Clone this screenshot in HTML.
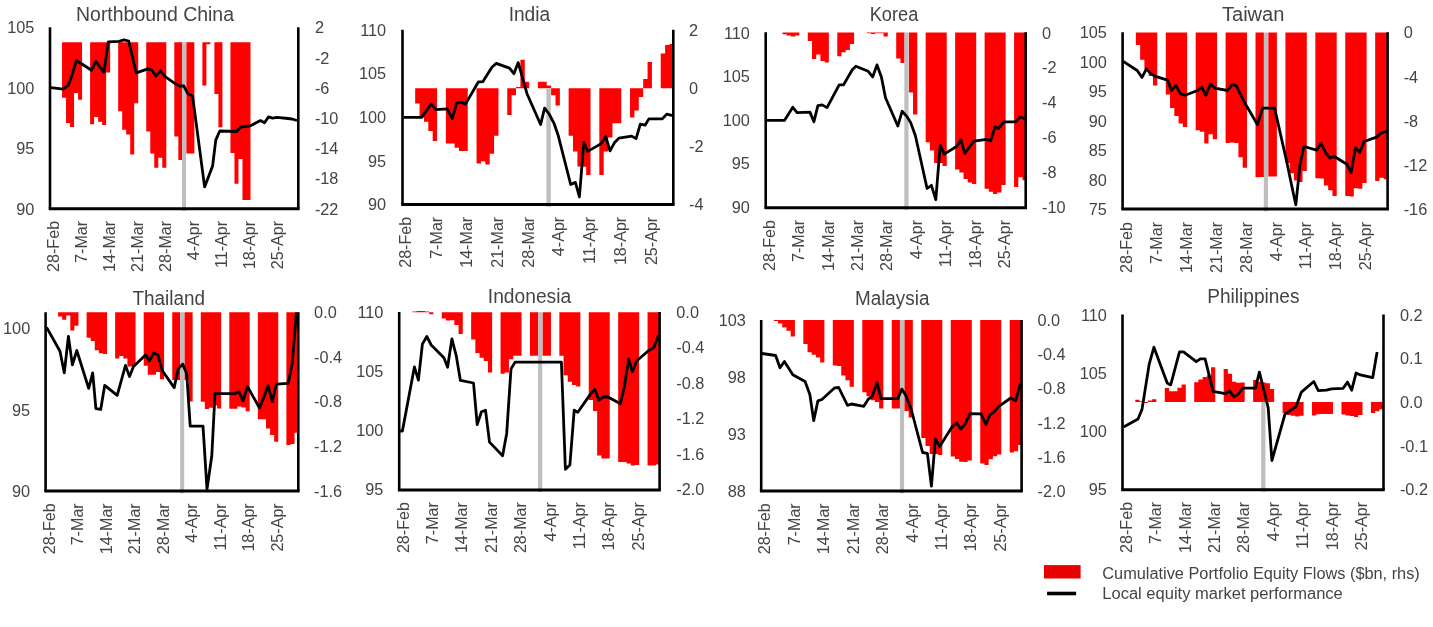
<!DOCTYPE html>
<html lang="en"><head><meta charset="utf-8"><title>Equity flows</title>
<style>html,body{margin:0;padding:0;background:#fff}body{width:1433px;height:627px;overflow:hidden}svg{display:block}</style>
</head><body>
<svg width="1433" height="627" viewBox="0 0 1433 627" font-family="'Liberation Sans', sans-serif">
<rect width="1433" height="627" fill="#ffffff"/>
<g><path d="M62.03 42.3V97.7H66.04V123H70.05V127H74.06V92.9H78.07V99.8H82.08V42.3ZM90.1 42.3V124.3H94.11V117H98.12V121.7H102.13V124.9H106.14V72.5H110.15V42.3ZM118.17 42.3V111.3H122.18V129.7H126.19V134.5H130.2V154.6H134.21V103.3H138.22V42.3ZM146.24 42.3V131.5H150.25V153.4H154.26V167.7H158.27V157.8H162.28V167.7H166.29V42.3ZM174.31 42.3V136.6H178.32V160H182.33V42.3ZM186.34 42.3V153.4H190.35V153.4H194.36V42.3ZM202.38 42.3V85.4H206.39V44.2H210.4V42.3ZM214.41 42.3V94H218.42V127.3H222.43V42.3ZM230.45 42.3V153H234.46V183.7H238.47V159H242.48V200H246.49V200H250.5V42.3Z" fill="#ff0000"/><rect x="182.03" y="42.3" width="4.01" height="168.6" fill="#bfbfbf"/><path d="M50 27.3V208.5M298.3 27.3V208.5" fill="none" stroke="#000" stroke-width="2.6"/><path d="M48.7 208.7H299.6" fill="none" stroke="#000" stroke-width="3"/><polyline points="51,87.6 63.2,89.2 68,85.7 71.2,77.7 76.4,60.5 91.5,70.2 95.9,61.4 103.9,72.1 108.4,41.8 119.1,41.3 123.9,39.9 128.7,41 136.2,72.9 147.9,68.9 151.9,70.2 155.9,76.1 160.3,70.9 165.5,76.9 175.8,84.1 179.8,86 183.8,86 187.8,93.7 192.6,96.1 204.6,186.9 212.6,166.1 215.8,139.8 219.8,131 236.6,131.5 240.6,127 250,125.9 260.5,120.6 264.5,122.7 268.5,116.9 272.5,118.2 277,117.4 288,118.5 292,119 297,120.5" fill="none" stroke="#000" stroke-width="2.8" stroke-linejoin="round" stroke-linecap="butt"/><text x="155" y="20.6" font-size="19.4" fill="#444444" text-anchor="middle" textLength="158" lengthAdjust="spacingAndGlyphs">Northbound China</text><text x="34.4" y="33.3" font-size="16.3" fill="#444444" text-anchor="end">105</text><text x="34.4" y="93.73" font-size="16.3" fill="#444444" text-anchor="end">100</text><text x="34.4" y="154.17" font-size="16.3" fill="#444444" text-anchor="end">95</text><text x="34.4" y="214.6" font-size="16.3" fill="#444444" text-anchor="end">90</text><text x="314.9" y="33.3" font-size="16.3" fill="#444444">2</text><text x="314.9" y="63.52" font-size="16.3" fill="#444444">-2</text><text x="314.9" y="93.73" font-size="16.3" fill="#444444">-6</text><text x="314.9" y="123.95" font-size="16.3" fill="#444444">-10</text><text x="314.9" y="154.17" font-size="16.3" fill="#444444">-14</text><text x="314.9" y="184.38" font-size="16.3" fill="#444444">-18</text><text x="314.9" y="214.6" font-size="16.3" fill="#444444">-22</text><text transform="translate(58.8 220.9) rotate(-90)" font-size="16.1" fill="#444444" text-anchor="end">28-Feb</text><text transform="translate(86.88 220.9) rotate(-90)" font-size="16.1" fill="#444444" text-anchor="end">7-Mar</text><text transform="translate(114.94 220.9) rotate(-90)" font-size="16.1" fill="#444444" text-anchor="end">14-Mar</text><text transform="translate(143.01 220.9) rotate(-90)" font-size="16.1" fill="#444444" text-anchor="end">21-Mar</text><text transform="translate(171.09 220.9) rotate(-90)" font-size="16.1" fill="#444444" text-anchor="end">28-Mar</text><text transform="translate(199.16 220.9) rotate(-90)" font-size="16.1" fill="#444444" text-anchor="end">4-Apr</text><text transform="translate(227.22 220.9) rotate(-90)" font-size="16.1" fill="#444444" text-anchor="end">11-Apr</text><text transform="translate(255.29 220.9) rotate(-90)" font-size="16.1" fill="#444444" text-anchor="end">18-Apr</text><text transform="translate(283.37 220.9) rotate(-90)" font-size="16.1" fill="#444444" text-anchor="end">25-Apr</text></g>
<g><path d="M415.15 88.3V103.6H419.54V117.5H423.93V121.7H428.31V131H432.69V141H437.08V88.3ZM445.85 88.3V143.4H450.24V143.4H454.62V147.8H459V151H463.39V151H467.77V88.3ZM476.55 88.3V163.4H480.93V161.3H485.31V164.5H489.7V153.8H494.08V135.8H498.47V88.3ZM507.24 88.3V115H511.62V95.3H516.01V87H520.39V59.8H524.78V81.7H529.16V88.3ZM537.93 88.3V81.7H542.32V81.7H546.7V85.4H551.09V95.3H555.48V105.4H559.86V88.3ZM568.63 88.3V135.8H573.01V151.4H577.4V166.5H581.78V166.8H586.17V175H590.55V88.3ZM599.33 88.3V175H603.71V151.5H608.1V137.5H612.48V123.3H616.87V123.3H621.25V88.3ZM630.02 88.3V117.5H634.4V110.4H638.79V97H643.17V78.9H647.56V62H651.94V88.3ZM660.71 88.3V53.4H665.1V44.9H669.49V44.1H673.3V88.3Z" fill="#ff0000"/><rect x="546.4" y="88.3" width="4.39" height="118.5" fill="#bfbfbf"/><path d="M402.5 29.8V204.4M673.3 29.8V204.4" fill="none" stroke="#000" stroke-width="2.6"/><path d="M401.2 204.6H674.6" fill="none" stroke="#000" stroke-width="3"/><polyline points="403.5,117.4 421.6,117.4 431.2,104.1 435.9,109.7 447.1,108.9 452.2,118.5 456.7,103.3 460.7,102.2 465.5,104.1 478.3,82 482.8,81.7 491.9,67.3 496.3,63.4 509.5,68.1 513.9,73.7 518.2,62.6 527,93.7 540.6,124.5 544.6,108.1 549.4,114.5 554,123.3 558.3,135.8 570.7,184.5 575.4,182.4 579.4,197 583.8,142.5 587.8,151.4 601.2,143.6 605.8,136.6 610,150.8 614.4,142.8 618.9,138.1 631.7,136.1 636.1,138.6 640.3,124.1 645.1,125.2 648.9,118.9 662.3,118.9 666.7,114.1 672.8,115.7" fill="none" stroke="#000" stroke-width="2.8" stroke-linejoin="round" stroke-linecap="butt"/><text x="529.4" y="21.1" font-size="19.4" fill="#444444" text-anchor="middle" textLength="41.5" lengthAdjust="spacingAndGlyphs">India</text><text x="386.1" y="35.7" font-size="16.3" fill="#444444" text-anchor="end">110</text><text x="386.1" y="79.35" font-size="16.3" fill="#444444" text-anchor="end">105</text><text x="386.1" y="123" font-size="16.3" fill="#444444" text-anchor="end">100</text><text x="386.1" y="166.65" font-size="16.3" fill="#444444" text-anchor="end">95</text><text x="386.1" y="210.3" font-size="16.3" fill="#444444" text-anchor="end">90</text><text x="689" y="35.7" font-size="16.3" fill="#444444">2</text><text x="689" y="93.9" font-size="16.3" fill="#444444">0</text><text x="689" y="152.1" font-size="16.3" fill="#444444">-2</text><text x="689" y="210.3" font-size="16.3" fill="#444444">-4</text><text transform="translate(410.99 216.8) rotate(-90)" font-size="16.1" fill="#444444" text-anchor="end">28-Feb</text><text transform="translate(441.69 216.8) rotate(-90)" font-size="16.1" fill="#444444" text-anchor="end">7-Mar</text><text transform="translate(472.38 216.8) rotate(-90)" font-size="16.1" fill="#444444" text-anchor="end">14-Mar</text><text transform="translate(503.08 216.8) rotate(-90)" font-size="16.1" fill="#444444" text-anchor="end">21-Mar</text><text transform="translate(533.77 216.8) rotate(-90)" font-size="16.1" fill="#444444" text-anchor="end">28-Mar</text><text transform="translate(564.47 216.8) rotate(-90)" font-size="16.1" fill="#444444" text-anchor="end">4-Apr</text><text transform="translate(595.16 216.8) rotate(-90)" font-size="16.1" fill="#444444" text-anchor="end">11-Apr</text><text transform="translate(625.86 216.8) rotate(-90)" font-size="16.1" fill="#444444" text-anchor="end">18-Apr</text><text transform="translate(656.55 216.8) rotate(-90)" font-size="16.1" fill="#444444" text-anchor="end">25-Apr</text></g>
<g><path d="M782.54 32.5V34.3H786.75V35.5H790.96V36.5H795.17V35.5H799.38V32.5ZM807.8 32.5V41H812.01V59H816.22V54.6H820.43V61H824.64V62.6H828.85V32.5ZM837.27 32.5V56.2H841.48V52.2H845.69V50.1H849.9V43.9H854.11V32.5ZM866.74 32.5V33.3H870.95V34H875.16V33.3H879.37V33.3H883.58V36.5H887.79V32.5ZM896.21 32.5V58.6H900.42V62.9H904.63V32.5ZM908.84 32.5V92.4H913.05V114.5H917.26V32.5ZM925.68 32.5V142.2H929.89V150.5H934.1V162.9H938.31V163H942.52V166.1H946.73V32.5ZM955.15 32.5V169.6H959.36V172.4H963.57V179H967.78V182.4H971.99V184H976.2V32.5ZM984.62 32.5V188.8H988.83V191.7H993.04V193.9H997.25V192.6H1001.46V185H1005.67V32.5ZM1014.09 32.5V186.9H1018.3V177.3H1022.51V180.2H1025.7V32.5Z" fill="#ff0000"/><rect x="904.33" y="32.5" width="4.21" height="177.5" fill="#bfbfbf"/><path d="M765.7 32.3V207.6M1025.7 32.3V207.6" fill="none" stroke="#000" stroke-width="2.6"/><path d="M764.4 207.8H1027" fill="none" stroke="#000" stroke-width="3"/><polyline points="766.5,120.4 784.4,120.4 792.8,107.3 797.1,112.6 809.9,112.1 813.9,121.7 817.9,105.7 822.2,104.9 827,107.6 839.2,84.9 843.5,84.9 852.3,69.7 855.9,66.2 868.2,71.3 872.7,76.9 877,64.9 881.4,76.9 885.5,97.7 897.8,126 902.1,111.3 906.6,116.1 910.6,122.4 915.4,135.8 927.1,188.5 931.4,185.3 935.8,199.7 940.2,145.4 944.2,154.1 956.9,146.2 960.9,139.9 964.8,153.4 969.5,147 974,141.2 986.5,139.4 990.7,140.9 995.1,126.6 998.4,128.5 1004.1,121.8 1015.6,121.8 1020.4,117 1025.2,118.9" fill="none" stroke="#000" stroke-width="2.8" stroke-linejoin="round" stroke-linecap="butt"/><text x="894" y="20.6" font-size="19.4" fill="#444444" text-anchor="middle" textLength="48.5" lengthAdjust="spacingAndGlyphs">Korea</text><text x="749.9" y="38.5" font-size="16.3" fill="#444444" text-anchor="end">110</text><text x="749.9" y="82.15" font-size="16.3" fill="#444444" text-anchor="end">105</text><text x="749.9" y="125.8" font-size="16.3" fill="#444444" text-anchor="end">100</text><text x="749.9" y="169.45" font-size="16.3" fill="#444444" text-anchor="end">95</text><text x="749.9" y="213.1" font-size="16.3" fill="#444444" text-anchor="end">90</text><text x="1042.1" y="38.5" font-size="16.3" fill="#444444">0</text><text x="1042.1" y="73.42" font-size="16.3" fill="#444444">-2</text><text x="1042.1" y="108.34" font-size="16.3" fill="#444444">-4</text><text x="1042.1" y="143.26" font-size="16.3" fill="#444444">-6</text><text x="1042.1" y="178.18" font-size="16.3" fill="#444444">-8</text><text x="1042.1" y="213.1" font-size="16.3" fill="#444444">-10</text><text transform="translate(774.61 220) rotate(-90)" font-size="16.1" fill="#444444" text-anchor="end">28-Feb</text><text transform="translate(804.08 220) rotate(-90)" font-size="16.1" fill="#444444" text-anchor="end">7-Mar</text><text transform="translate(833.54 220) rotate(-90)" font-size="16.1" fill="#444444" text-anchor="end">14-Mar</text><text transform="translate(863.01 220) rotate(-90)" font-size="16.1" fill="#444444" text-anchor="end">21-Mar</text><text transform="translate(892.49 220) rotate(-90)" font-size="16.1" fill="#444444" text-anchor="end">28-Mar</text><text transform="translate(921.96 220) rotate(-90)" font-size="16.1" fill="#444444" text-anchor="end">4-Apr</text><text transform="translate(951.42 220) rotate(-90)" font-size="16.1" fill="#444444" text-anchor="end">11-Apr</text><text transform="translate(980.89 220) rotate(-90)" font-size="16.1" fill="#444444" text-anchor="end">18-Apr</text><text transform="translate(1010.37 220) rotate(-90)" font-size="16.1" fill="#444444" text-anchor="end">25-Apr</text></g>
<g><path d="M1135.87 32.5V45H1140.14V59.8H1144.41V69H1148.69V76H1152.96V85.4H1157.23V32.5ZM1165.78 32.5V94.5H1170.05V108.1H1174.33V116.1H1178.6V123.5H1182.87V127H1187.14V32.5ZM1195.69 32.5V130.2H1199.96V131.8H1204.24V143.4H1208.51V134.2H1212.78V139.3H1217.06V32.5ZM1225.6 32.5V143H1229.88V142.5H1234.15V143H1238.42V157.3H1242.69V167.7H1246.97V32.5ZM1255.51 32.5V177.3H1259.79V177H1264.06V32.5ZM1268.33 32.5V176.5H1272.61V176.5H1276.88V32.5ZM1285.42 32.5V162.9H1289.7V173.3H1293.97V180.5H1298.24V182.1H1302.52V170.9H1306.79V32.5ZM1315.34 32.5V178.2H1319.61V178.6H1323.88V185.5H1328.15V190.2H1332.43V196.1H1336.7V32.5ZM1345.25 32.5V196H1349.52V196.4H1353.79V188.2H1358.07V188.8H1362.34V183H1366.61V32.5ZM1375.16 32.5V181.1H1379.43V177.7H1383.7V179.2H1387.6V32.5Z" fill="#ff0000"/><rect x="1263.76" y="32.5" width="4.27" height="178.8" fill="#bfbfbf"/><path d="M1122.6 32.2V208.9M1387.6 32.2V208.9" fill="none" stroke="#000" stroke-width="2.6"/><path d="M1121.3 209.1H1388.9" fill="none" stroke="#000" stroke-width="3"/><polyline points="1123.2,61.4 1137.2,70.5 1142,77.4 1146.4,68.9 1150,72.9 1154.7,76.1 1167.5,80.1 1171.5,90.5 1175.8,85.4 1180.3,93.7 1185.1,95.3 1197.6,90.5 1201.9,87.3 1205.9,95.3 1210.4,84.1 1214.7,88.1 1227.5,90.5 1232.2,84.6 1236.2,85.7 1241,95.3 1245,103.3 1257.4,124.5 1262.6,108.1 1274.6,108.1 1287,163 1291.3,183.7 1295.8,204.8 1300.2,163 1304.1,146.5 1316.6,150.1 1321.2,143.3 1325.8,153 1330,158 1334.3,156.5 1346.9,164.3 1351.1,172.5 1355.5,147.6 1359.7,152.4 1364.1,141.5 1376.6,137.1 1381.3,132.9 1387,131.4" fill="none" stroke="#000" stroke-width="2.8" stroke-linejoin="round" stroke-linecap="butt"/><text x="1253.2" y="20.6" font-size="19.4" fill="#444444" text-anchor="middle" textLength="62.5" lengthAdjust="spacingAndGlyphs">Taiwan</text><text x="1106.9" y="38.4" font-size="16.3" fill="#444444" text-anchor="end">105</text><text x="1106.9" y="67.83" font-size="16.3" fill="#444444" text-anchor="end">100</text><text x="1106.9" y="97.27" font-size="16.3" fill="#444444" text-anchor="end">95</text><text x="1106.9" y="126.7" font-size="16.3" fill="#444444" text-anchor="end">90</text><text x="1106.9" y="156.13" font-size="16.3" fill="#444444" text-anchor="end">85</text><text x="1106.9" y="185.57" font-size="16.3" fill="#444444" text-anchor="end">80</text><text x="1106.9" y="215" font-size="16.3" fill="#444444" text-anchor="end">75</text><text x="1403.7" y="38.4" font-size="16.3" fill="#444444">0</text><text x="1403.7" y="82.55" font-size="16.3" fill="#444444">-4</text><text x="1403.7" y="126.7" font-size="16.3" fill="#444444">-8</text><text x="1403.7" y="170.85" font-size="16.3" fill="#444444">-12</text><text x="1403.7" y="215" font-size="16.3" fill="#444444">-16</text><text transform="translate(1131.99 222) rotate(-90)" font-size="16.1" fill="#444444" text-anchor="end">28-Feb</text><text transform="translate(1161.9 222) rotate(-90)" font-size="16.1" fill="#444444" text-anchor="end">7-Mar</text><text transform="translate(1191.81 222) rotate(-90)" font-size="16.1" fill="#444444" text-anchor="end">14-Mar</text><text transform="translate(1221.72 222) rotate(-90)" font-size="16.1" fill="#444444" text-anchor="end">21-Mar</text><text transform="translate(1251.63 222) rotate(-90)" font-size="16.1" fill="#444444" text-anchor="end">28-Mar</text><text transform="translate(1281.54 222) rotate(-90)" font-size="16.1" fill="#444444" text-anchor="end">4-Apr</text><text transform="translate(1311.45 222) rotate(-90)" font-size="16.1" fill="#444444" text-anchor="end">11-Apr</text><text transform="translate(1341.36 222) rotate(-90)" font-size="16.1" fill="#444444" text-anchor="end">18-Apr</text><text transform="translate(1371.27 222) rotate(-90)" font-size="16.1" fill="#444444" text-anchor="end">25-Apr</text></g>
<g><path d="M58.08 312.2V316.5H62.16V319.7H66.23V315.4H70.31V330.6H74.39V325.8H78.47V312.2ZM86.62 312.2V337.8H90.7V341H94.77V350.2H98.85V353.3H102.93V354H107V312.2ZM115.16 312.2V358.5H119.24V356.1H123.31V358.5H127.39V366.5H131.47V366.5H135.54V312.2ZM143.7 312.2V365.7H147.78V374.8H151.85V374.8H155.93V372.1H160.01V379.3H164.08V312.2ZM172.24 312.2V380H176.31V380H180.39V312.2ZM184.47 312.2V380H188.54V401.5H192.62V312.2ZM200.78 312.2V401.7H204.85V409.1H208.93V407.8H213.01V405.4H217.08V408.6H221.16V312.2ZM229.31 312.2V408.8H233.39V408.8H237.47V406.5H241.55V407.4H245.62V411.3H249.7V312.2ZM257.85 312.2V419.3H261.93V419.3H266.01V428.4H270.08V435H274.16V441.7H278.24V312.2ZM286.39 312.2V444.9H290.47V444.1H294.55V432.7H298.3V312.2Z" fill="#ff0000"/><rect x="180.09" y="312.2" width="4.08" height="181.1" fill="#bfbfbf"/><path d="M45.6 312.2V490.9M298.3 312.2V490.9" fill="none" stroke="#000" stroke-width="2.6"/><path d="M44.3 491.1H299.6" fill="none" stroke="#000" stroke-width="3"/><polyline points="46.6,327.4 60,351.3 64.3,372.9 68.4,336.5 72.4,364.9 76.8,350.5 88.7,388.4 92.7,372.9 95.9,408.6 100.7,409.4 104.7,385.4 117.2,395.3 121,381.7 125.5,365.4 129.5,376.6 133.5,366.5 145.5,354.9 149.5,360.9 153.8,352.9 157.9,354.9 162.2,370.5 174.2,387.6 178.2,368.9 182.7,364.1 186.7,373.7 190.2,426.2 203,426.2 207,489.3 211.8,455.7 215,393.7 235,393.7 239,391.8 243,400.9 247.5,386.6 259.5,408 264,397 268,385.5 272.3,401.5 276.3,384.2 288.2,383.3 292.2,364 296.4,312.5" fill="none" stroke="#000" stroke-width="2.8" stroke-linejoin="round" stroke-linecap="butt"/><text x="168.7" y="304.6" font-size="19.4" fill="#444444" text-anchor="middle" textLength="72.5" lengthAdjust="spacingAndGlyphs">Thailand</text><text x="30.2" y="334.3" font-size="16.3" fill="#444444" text-anchor="end">100</text><text x="30.2" y="415.5" font-size="16.3" fill="#444444" text-anchor="end">95</text><text x="30.2" y="496.7" font-size="16.3" fill="#444444" text-anchor="end">90</text><text x="314.1" y="318" font-size="16.3" fill="#444444">0.0</text><text x="314.1" y="362.7" font-size="16.3" fill="#444444">-0.4</text><text x="314.1" y="407.4" font-size="16.3" fill="#444444">-0.8</text><text x="314.1" y="452.1" font-size="16.3" fill="#444444">-1.2</text><text x="314.1" y="496.8" font-size="16.3" fill="#444444">-1.6</text><text transform="translate(54.69 503.3) rotate(-90)" font-size="16.1" fill="#444444" text-anchor="end">28-Feb</text><text transform="translate(83.23 503.3) rotate(-90)" font-size="16.1" fill="#444444" text-anchor="end">7-Mar</text><text transform="translate(111.77 503.3) rotate(-90)" font-size="16.1" fill="#444444" text-anchor="end">14-Mar</text><text transform="translate(140.31 503.3) rotate(-90)" font-size="16.1" fill="#444444" text-anchor="end">21-Mar</text><text transform="translate(168.84 503.3) rotate(-90)" font-size="16.1" fill="#444444" text-anchor="end">28-Mar</text><text transform="translate(197.38 503.3) rotate(-90)" font-size="16.1" fill="#444444" text-anchor="end">4-Apr</text><text transform="translate(225.92 503.3) rotate(-90)" font-size="16.1" fill="#444444" text-anchor="end">11-Apr</text><text transform="translate(254.46 503.3) rotate(-90)" font-size="16.1" fill="#444444" text-anchor="end">18-Apr</text><text transform="translate(283 503.3) rotate(-90)" font-size="16.1" fill="#444444" text-anchor="end">25-Apr</text></g>
<g><path d="M412.35 312.2V311.4H416.55V311H420.75V311H424.95V311.4H429.15V314.3H433.35V312.2ZM441.75 312.2V318.6H445.95V320.5H450.15V320.2H454.35V325H458.55V334.1H462.75V312.2ZM471.15 312.2V339.4H475.35V352.9H479.55V357.7H483.75V360.9H487.95V372.4H492.15V312.2ZM500.55 312.2V373.7H504.75V372.4H508.95V359.3H513.15V355.8H517.35V355.8H521.55V312.2ZM529.95 312.2V355.8H534.15V355.8H538.35V312.2ZM542.55 312.2V355.8H546.75V355.8H550.95V312.2ZM559.35 312.2V355.8H563.55V375.3H567.75V381.7H571.95V384.9H576.15V386.5H580.35V312.2ZM588.75 312.2V400H592.95V411H597.15V455.4H601.35V458.4H605.55V458.4H609.75V312.2ZM618.15 312.2V462.1H622.35V462.1H626.55V463.4H630.75V465.5H634.95V465H639.15V312.2ZM647.55 312.2V465.5H651.75V465.5H655.95V464.6H659.6V312.2Z" fill="#ff0000"/><rect x="538.05" y="312.2" width="4.2" height="179.9" fill="#bfbfbf"/><path d="M399.2 312V489.7M659.6 312V489.7" fill="none" stroke="#000" stroke-width="2.6"/><path d="M397.9 489.9H660.9" fill="none" stroke="#000" stroke-width="3"/><polyline points="400.2,431 402.4,431 414.4,367 418.4,380.1 422.4,344.1 426.8,336.5 431.2,345 443.9,357.7 447.6,367.3 451.9,338.9 456.3,356 460.4,380.4 473.5,383 477.2,424.6 481.5,411.8 485.5,410.2 489.5,442.1 502.6,455.7 506.7,433.4 511,368.9 515,362.2 561.4,362.2 565.4,469.3 569.9,465 574.2,410.2 577.8,412.3 590.3,394.4 594.8,389.5 598.9,400 603.7,396.8 608,397 620.4,403.7 624.4,386.9 628.6,359.1 632.4,371.6 636.6,361 648.7,350.5 653.9,347.6 658.6,335.2" fill="none" stroke="#000" stroke-width="2.8" stroke-linejoin="round" stroke-linecap="butt"/><text x="529.5" y="303.1" font-size="19.4" fill="#444444" text-anchor="middle" textLength="83.3" lengthAdjust="spacingAndGlyphs">Indonesia</text><text x="383.4" y="318" font-size="16.3" fill="#444444" text-anchor="end">110</text><text x="383.4" y="377.1" font-size="16.3" fill="#444444" text-anchor="end">105</text><text x="383.4" y="436.2" font-size="16.3" fill="#444444" text-anchor="end">100</text><text x="383.4" y="495.3" font-size="16.3" fill="#444444" text-anchor="end">95</text><text x="676.3" y="318" font-size="16.3" fill="#444444">0.0</text><text x="676.3" y="353.46" font-size="16.3" fill="#444444">-0.4</text><text x="676.3" y="388.92" font-size="16.3" fill="#444444">-0.8</text><text x="676.3" y="424.38" font-size="16.3" fill="#444444">-1.2</text><text x="676.3" y="459.84" font-size="16.3" fill="#444444">-1.6</text><text x="676.3" y="495.3" font-size="16.3" fill="#444444">-2.0</text><text transform="translate(408.65 502.1) rotate(-90)" font-size="16.1" fill="#444444" text-anchor="end">28-Feb</text><text transform="translate(438.05 502.1) rotate(-90)" font-size="16.1" fill="#444444" text-anchor="end">7-Mar</text><text transform="translate(467.45 502.1) rotate(-90)" font-size="16.1" fill="#444444" text-anchor="end">14-Mar</text><text transform="translate(496.85 502.1) rotate(-90)" font-size="16.1" fill="#444444" text-anchor="end">21-Mar</text><text transform="translate(526.25 502.1) rotate(-90)" font-size="16.1" fill="#444444" text-anchor="end">28-Mar</text><text transform="translate(555.65 502.1) rotate(-90)" font-size="16.1" fill="#444444" text-anchor="end">4-Apr</text><text transform="translate(585.05 502.1) rotate(-90)" font-size="16.1" fill="#444444" text-anchor="end">11-Apr</text><text transform="translate(614.45 502.1) rotate(-90)" font-size="16.1" fill="#444444" text-anchor="end">18-Apr</text><text transform="translate(643.85 502.1) rotate(-90)" font-size="16.1" fill="#444444" text-anchor="end">25-Apr</text></g>
<g><path d="M773.84 320.1V320.9H778.05V323.6H782.26V327.6H786.47V330.8H790.68V336.4H794.9V320.1ZM803.32 320.1V344H807.53V352.3H811.74V354.7H815.96V357.6H820.17V362.4H824.38V320.1ZM832.8 320.1V365.6H837.02V365.9H841.23V375.5H845.44V380.3H849.65V386.7H853.86V320.1ZM862.29 320.1V392.3H866.5V396.3H870.71V400.3H874.92V401.9H879.14V408.4H883.35V320.1ZM891.77 320.1V408.5H895.98V408.5H900.2V320.1ZM904.41 320.1V411H908.62V417.4H912.83V320.1ZM921.26 320.1V438.1H925.47V446.1H929.68V454.1H933.89V454.1H938.1V454.9H942.32V320.1ZM950.74 320.1V456.4H954.95V459H959.16V461.8H963.38V461.9H967.59V460.5H971.8V320.1ZM980.22 320.1V463.4H984.44V465H988.65V459.2H992.86V456.3H997.07V454.4H1001.28V320.1ZM1009.71 320.1V452.5H1013.92V451.2H1018.13V444.9H1021.6V320.1Z" fill="#ff0000"/><rect x="899.9" y="320.1" width="4.21" height="173.2" fill="#bfbfbf"/><path d="M761.2 319.9V490.9M1021.6 319.9V490.9" fill="none" stroke="#000" stroke-width="2.6"/><path d="M759.9 491.1H1022.9" fill="none" stroke="#000" stroke-width="3"/><polyline points="762,353.5 775.6,355.5 780,367.8 784.4,361.5 792.8,374.7 805.1,381.4 809.9,394.7 813.7,420.6 817.9,400.8 821.9,399.5 834.7,387.8 838.7,387.5 847.5,405.4 851.5,404 863.8,406.3 868.2,399.2 872.2,396.3 877,382.7 881,398.7 897.8,398.7 901.8,389.1 905.8,395.5 911.4,410 922.6,452.5 927.4,453.3 931.4,486.1 935.4,438.9 939.6,446.4 952.2,426.7 956.8,423 960.8,429 965.2,424 970,413.6 981.1,413.9 985.9,424.4 989.8,415.2 994.5,411.4 998.4,406.6 1010.8,398 1015.6,400.8 1020.4,383.6" fill="none" stroke="#000" stroke-width="2.8" stroke-linejoin="round" stroke-linecap="butt"/><text x="892.2" y="304.6" font-size="19.4" fill="#444444" text-anchor="middle" textLength="74.5" lengthAdjust="spacingAndGlyphs">Malaysia</text><text x="745.9" y="326" font-size="16.3" fill="#444444" text-anchor="end">103</text><text x="745.9" y="382.97" font-size="16.3" fill="#444444" text-anchor="end">98</text><text x="745.9" y="439.93" font-size="16.3" fill="#444444" text-anchor="end">93</text><text x="745.9" y="496.9" font-size="16.3" fill="#444444" text-anchor="end">88</text><text x="1037.5" y="326" font-size="16.3" fill="#444444">0.0</text><text x="1037.5" y="360.18" font-size="16.3" fill="#444444">-0.4</text><text x="1037.5" y="394.36" font-size="16.3" fill="#444444">-0.8</text><text x="1037.5" y="428.54" font-size="16.3" fill="#444444">-1.2</text><text x="1037.5" y="462.72" font-size="16.3" fill="#444444">-1.6</text><text x="1037.5" y="496.9" font-size="16.3" fill="#444444">-2.0</text><text transform="translate(770.11 503.3) rotate(-90)" font-size="16.1" fill="#444444" text-anchor="end">28-Feb</text><text transform="translate(799.59 503.3) rotate(-90)" font-size="16.1" fill="#444444" text-anchor="end">7-Mar</text><text transform="translate(829.07 503.3) rotate(-90)" font-size="16.1" fill="#444444" text-anchor="end">14-Mar</text><text transform="translate(858.56 503.3) rotate(-90)" font-size="16.1" fill="#444444" text-anchor="end">21-Mar</text><text transform="translate(888.04 503.3) rotate(-90)" font-size="16.1" fill="#444444" text-anchor="end">28-Mar</text><text transform="translate(917.53 503.3) rotate(-90)" font-size="16.1" fill="#444444" text-anchor="end">4-Apr</text><text transform="translate(947.01 503.3) rotate(-90)" font-size="16.1" fill="#444444" text-anchor="end">11-Apr</text><text transform="translate(976.49 503.3) rotate(-90)" font-size="16.1" fill="#444444" text-anchor="end">18-Apr</text><text transform="translate(1005.98 503.3) rotate(-90)" font-size="16.1" fill="#444444" text-anchor="end">25-Apr</text></g>
<g><path d="M1135.32 401.9V399.8H1139.53V401.2H1143.74V403H1147.94V400.6H1152.15V399.3H1156.36V401.9ZM1164.77 401.9V388.1H1168.98V391.3H1173.18V391.3H1177.39V387.8H1181.6V384.4H1185.81V401.9ZM1194.22 401.9V382.2H1198.43V379.6H1202.63V376.9H1206.84V375.3H1211.05V367.3H1215.25V401.9ZM1223.67 401.9V368.9H1227.88V373.7H1232.08V381.7H1236.29V382.8H1240.5V382.5H1244.7V401.9ZM1253.12 401.9V380.1H1257.32V381.7H1261.53V382.5H1265.74V383.3H1269.95V388.9H1274.15V401.9ZM1282.57 401.9V412.9H1286.77V415H1290.98V415.8H1295.19V416.6H1299.39V415.8H1303.6V401.9ZM1312.02 401.9V415.4H1316.22V414.3H1320.43V414H1324.64V414H1328.84V414H1333.05V401.9ZM1341.46 401.9V414.5H1345.67V415.6H1349.88V416H1354.09V417H1358.29V415H1362.5V401.9ZM1370.91 401.9V413.1H1375.12V411.2H1379.33V409.3H1383.5V401.9Z" fill="#ff0000"/><rect x="1261.23" y="401.9" width="4.21" height="90" fill="#bfbfbf"/><path d="M1122.5 314.5V489.5M1383.5 314.5V489.5" fill="none" stroke="#000" stroke-width="2.6"/><path d="M1121.2 489.7H1384.8" fill="none" stroke="#000" stroke-width="3"/><polyline points="1123.6,427 1138,419 1142,409.4 1149.2,364.1 1153.9,347.3 1167.2,383 1170.7,384.9 1179.5,351.8 1183.5,351.8 1196.3,361.7 1200.3,358.9 1205.1,358.9 1213.1,391.3 1225.1,393.7 1229.8,391.3 1233.8,396.9 1237.8,394.5 1242.6,388.1 1255.4,388.1 1259.4,372.1 1268.2,407.8 1271.9,460.5 1285,414.2 1296,406.7 1301.4,392.1 1313.8,381.5 1318.3,390.6 1326.5,390.2 1331.4,388.8 1343.1,388.3 1347.5,382.1 1351.7,390.2 1356.1,372.9 1360.3,374.9 1372.7,377.7 1377.1,351.9" fill="none" stroke="#000" stroke-width="2.8" stroke-linejoin="round" stroke-linecap="butt"/><text x="1253.4" y="302.5" font-size="19.4" fill="#444444" text-anchor="middle" textLength="92.2" lengthAdjust="spacingAndGlyphs">Philippines</text><text x="1106.9" y="320.7" font-size="16.3" fill="#444444" text-anchor="end">110</text><text x="1106.9" y="378.93" font-size="16.3" fill="#444444" text-anchor="end">105</text><text x="1106.9" y="437.17" font-size="16.3" fill="#444444" text-anchor="end">100</text><text x="1106.9" y="495.4" font-size="16.3" fill="#444444" text-anchor="end">95</text><text x="1399.9" y="320.7" font-size="16.3" fill="#444444">0.2</text><text x="1399.9" y="364.38" font-size="16.3" fill="#444444">0.1</text><text x="1399.9" y="408.05" font-size="16.3" fill="#444444">0.0</text><text x="1399.9" y="451.73" font-size="16.3" fill="#444444">-0.1</text><text x="1399.9" y="495.4" font-size="16.3" fill="#444444">-0.2</text><text transform="translate(1131.6 501.9) rotate(-90)" font-size="16.1" fill="#444444" text-anchor="end">28-Feb</text><text transform="translate(1161.05 501.9) rotate(-90)" font-size="16.1" fill="#444444" text-anchor="end">7-Mar</text><text transform="translate(1190.5 501.9) rotate(-90)" font-size="16.1" fill="#444444" text-anchor="end">14-Mar</text><text transform="translate(1219.95 501.9) rotate(-90)" font-size="16.1" fill="#444444" text-anchor="end">21-Mar</text><text transform="translate(1249.4 501.9) rotate(-90)" font-size="16.1" fill="#444444" text-anchor="end">28-Mar</text><text transform="translate(1278.85 501.9) rotate(-90)" font-size="16.1" fill="#444444" text-anchor="end">4-Apr</text><text transform="translate(1308.3 501.9) rotate(-90)" font-size="16.1" fill="#444444" text-anchor="end">11-Apr</text><text transform="translate(1337.75 501.9) rotate(-90)" font-size="16.1" fill="#444444" text-anchor="end">18-Apr</text><text transform="translate(1367.2 501.9) rotate(-90)" font-size="16.1" fill="#444444" text-anchor="end">25-Apr</text></g>
<rect x="1044" y="565.1" width="36.6" height="13.4" fill="#e60000"/>
<rect x="1047.1" y="591.7" width="29" height="3.6" fill="#000"/>
<text x="1102.3" y="579.3" font-size="16" fill="#444444" textLength="317.5" lengthAdjust="spacingAndGlyphs">Cumulative Portfolio Equity Flows ($bn, rhs)</text>
<text x="1102.3" y="598.8" font-size="16" fill="#444444" textLength="240.5" lengthAdjust="spacingAndGlyphs">Local equity market performance</text>
</svg>
</body></html>
